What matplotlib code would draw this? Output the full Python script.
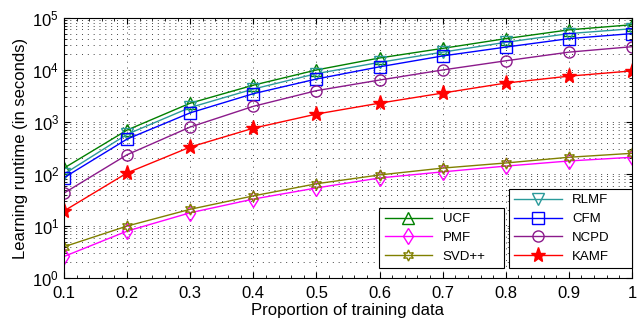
import matplotlib
matplotlib.use('Agg')
import matplotlib.pyplot as plt
from matplotlib.ticker import LogLocator, MultipleLocator, NullFormatter

plt.rcParams['font.family'] = ['Liberation Sans', 'DejaVu Sans']

proportions = [0.1, 0.2, 0.3, 0.4, 0.5, 0.6, 0.7, 0.8, 0.9, 1.0]
x_labels = ['0.1', '0.2', '0.3', '0.4', '0.5', '0.6', '0.7', '0.8', '0.9', '1']

ucf = [130, 700, 2300, 5100, 10000, 17000, 26000, 40000, 59000, 74000]
rlmf = [100, 580, 1900, 4300, 8500, 14000, 22000, 34000, 50000, 62000]
cfm = [85, 470, 1500, 3500, 6700, 11500, 18600, 27500, 40000, 50000]
ncpd = [43, 235, 800, 2000, 4000, 6400, 10000, 15000, 22000, 28000]
kamf = [19.5, 105, 330, 760, 1420, 2300, 3600, 5600, 7600, 9600]
svdpp = [4.0, 10, 21, 38, 65, 96, 130, 163, 210, 250]
pmf = [2.6, 8, 18, 33, 54, 84, 110, 142, 178, 210]

fig = plt.figure(figsize=(6.42, 3.26), dpi=100)
ax = fig.add_axes([0.0997, 0.147, 0.8847, 0.798])

ms = 8
star6 = (6, 1, 0)
h_ucf, = ax.plot(proportions, ucf, color='#008000', marker='^', mfc='none', ms=ms, lw=1, label='UCF')
h_pmf, = ax.plot(proportions, pmf, color='#ff00ff', marker='d', mfc='none', ms=ms, lw=1, label='PMF')
h_svd, = ax.plot(proportions, svdpp, color='#808000', marker=star6, mfc='none', ms=ms, lw=1, label='SVD++')
h_rlmf, = ax.plot(proportions, rlmf, color='#2a9a9a', marker='v', mfc='none', ms=ms, lw=1, label='RLMF')
h_cfm, = ax.plot(proportions, cfm, color='#0000ff', marker='s', mfc='none', ms=ms, lw=1, label='CFM')
h_ncpd, = ax.plot(proportions, ncpd, color='#8b1a8b', marker='o', mfc='none', ms=ms, lw=1, label='NCPD')
h_kamf, = ax.plot(proportions, kamf, color='#ff0000', marker='*', mfc='#ff0000', ms=11, lw=1, label='KAMF')

ax.set_yscale('log')
ax.set_xlim(0.1, 1.0)
ax.set_ylim(1, 1e5)
ax.set_xticks(proportions)
ax.set_xticklabels(x_labels)
ax.xaxis.set_minor_locator(MultipleLocator(0.02))
ax.yaxis.set_major_locator(LogLocator(base=10, numticks=10))
ax.yaxis.set_minor_locator(LogLocator(base=10, subs=range(2, 10), numticks=20))
ax.yaxis.set_minor_formatter(NullFormatter())

dots = (0, (1, 5))
ax.grid(True, which='major', axis='both', color='#444444', linestyle=dots, lw=0.7)
ax.grid(True, which='minor', axis='y', color='#444444', linestyle=dots, lw=0.7)
ax.set_axisbelow(True)

ax.tick_params(which='both', direction='in', top=True, right=True, labelsize=12)
ax.tick_params(axis='x', which='major', pad=6)
ax.tick_params(which='major', length=4)
ax.tick_params(which='minor', length=2)

ax.set_xlabel('Proportion of training data', fontsize=12, labelpad=1)
ax.set_ylabel('Learning runtime (in seconds)', fontsize=12, labelpad=3)

leg1 = ax.legend(handles=[h_ucf, h_pmf, h_svd], loc='lower left',
                 bbox_to_anchor=(0.555, 0.038, 0.22, 0.272), mode='expand',
                 fontsize=9.5, handlelength=3.6, fancybox=False, framealpha=1,
                 edgecolor='black', borderaxespad=0, labelspacing=0.5)
leg1.get_frame().set_linewidth(0.8)
ax.add_artist(leg1)
leg2 = ax.legend(handles=[h_rlmf, h_cfm, h_ncpd, h_kamf], loc='lower left',
                 bbox_to_anchor=(0.783, 0.038, 0.217, 0.352), mode='expand',
                 fontsize=9.5, handlelength=3.6, fancybox=False, framealpha=1,
                 edgecolor='black', borderaxespad=0, labelspacing=0.5)
leg2.get_frame().set_linewidth(0.8)

fig.savefig('out.png', dpi=100)
plt.close(fig)
